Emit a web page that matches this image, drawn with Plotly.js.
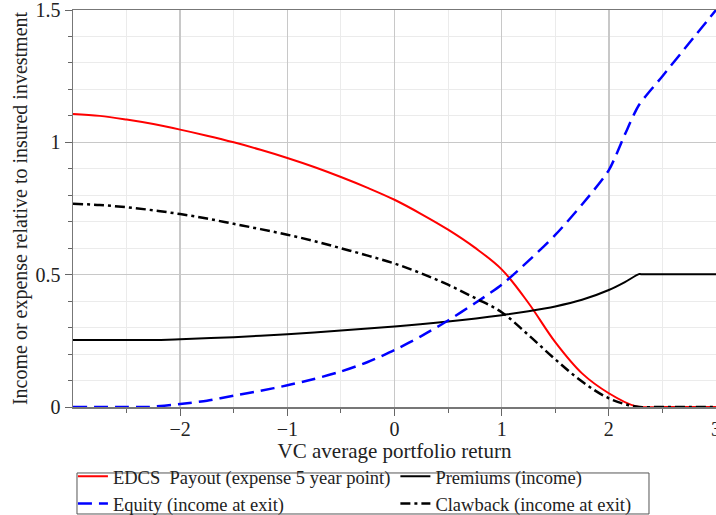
<!DOCTYPE html>
<html>
<head>
<meta charset="utf-8">
<script src="https://cdn.plot.ly/plotly-3.0.1.min.js"></script>
<style>html,body{margin:0;padding:0;background:#fff;}#chart{width:716px;height:515px;}</style>
</head>
<body>
<div id="chart"></div>
<script>
// ---- data ----
const seriesNames = ["EDCS\u00a0 Payout (expense 5 year point)", "Premiums (income)", "Equity (income at exit)", "Clawback (income at exit)"];

const edcsX = [-3,-2.75,-2.5,-2.25,-2,-1.75,-1.5,-1.25,-1,-0.75,-0.5,-0.25,0,0.25,0.5,0.75,1,1.25,1.5,1.75,2,2.25,2.5,2.75,3];
const edcsY = [1.107,1.100,1.086,1.069,1.048,1.025,1.000,0.972,0.941,0.907,0.869,0.828,0.783,0.729,0.670,0.602,0.520,0.393,0.245,0.127,0.052,0.003,0,0,0];

const premX = [-3,-2.5,-2.2,-2.18,-2,-1.5,-1,-0.5,0,0.5,1,1.25,1.5,1.75,2,2.15,2.28,2.3,2.5,3];
const premY = [0.253,0.253,0.253,0.253,0.256,0.264,0.275,0.289,0.304,0.323,0.347,0.362,0.380,0.405,0.442,0.472,0.502,0.502,0.502,0.502];

const equityX = [-3,-2.5,-2.3,-2,-1.75,-1.5,-1.25,-1,-0.75,-0.5,-0.25,0,0.25,0.5,0.75,1,1.25,1.5,1.75,2,2.15,2.28,2.5,2.75,3];
const equityY = [0,0,0,0.011,0.024,0.043,0.061,0.082,0.106,0.134,0.170,0.215,0.268,0.327,0.392,0.462,0.552,0.650,0.765,0.895,1.030,1.140,1.250,1.375,1.500];

const clawX = [-3,-2.75,-2.5,-2.25,-2,-1.75,-1.5,-1.25,-1,-0.75,-0.5,-0.25,0,0.25,0.5,0.75,1,1.25,1.5,1.75,2,2.25,2.5,2.75,3];
const clawY = [0.768,0.763,0.755,0.743,0.729,0.712,0.692,0.672,0.651,0.627,0.600,0.572,0.542,0.505,0.462,0.412,0.358,0.272,0.180,0.096,0.033,0.002,0,0,0];

const xTickVals = [-2,-1,0,1,2,3];
const xMinorVals = [-2.5,-1.5,-0.5,0.5,1.5,2.5];
const yTickVals = [0,0.5,1,1.5];
const yTickText = ["0","0.5","1","1.5"];

const xTitle = "VC average portfolio return";
const yTitle = "Income or expense relative to insured investment";

// ---- chart ----
const FONT = "'Liberation Serif', 'Times New Roman', serif";

const traces = [
  {x: edcsX, y: edcsY, name: seriesNames[0], mode: "lines",
   line: {color: "#ff0000", width: 2, shape: "spline", smoothing: 1}},
  {x: premX, y: premY, name: seriesNames[1], mode: "lines",
   line: {color: "#000000", width: 2, shape: "spline", smoothing: 0.9}},
  {x: equityX, y: equityY, name: seriesNames[2], mode: "lines",
   line: {color: "#0000ff", width: 2.5, dash: "14px,7px", shape: "spline", smoothing: 0.7}},
  {x: clawX, y: clawY, name: seriesNames[3], mode: "lines",
   line: {color: "#000000", width: 2.5, dash: "10px,4px,3px,4px", shape: "spline", smoothing: 1}}
];

const layout = {
  width: 716, height: 515,
  margin: {l: 73, r: 0, t: 10, b: 108, autoexpand: false},
  paper_bgcolor: "#ffffff", plot_bgcolor: "#ffffff",
  font: {family: FONT, size: 20, color: "#222"},
  showlegend: true,
  hovermode: false,
  xaxis: {
    range: [-3, 3], tickmode: "array", tickvals: xTickVals,
    ticks: "outside", ticklen: 7, tickwidth: 1, tickcolor: "#666",
    ticklabeloverflow: "allow", ticklabelstandoff: -4,
    showline: true, linecolor: "#777", linewidth: 1.5, mirror: true,
    showgrid: true, gridcolor: "#c8c8c8", gridwidth: 1.5, zeroline: false,
    tickfont: {family: FONT, size: 20, color: "#222"},
    minor: {tickmode: "array", tickvals: xMinorVals, ticks: "outside", ticklen: 4, tickcolor: "#666",
            showgrid: true, gridcolor: "#ebebeb", gridwidth: 1},
    title: {text: xTitle, font: {family: FONT, size: 21, color: "#222"}, standoff: 0}
  },
  yaxis: {
    range: [0, 1.5], tickmode: "array", tickvals: yTickVals, ticktext: yTickText,
    ticks: "outside", ticklen: 7, tickwidth: 1, tickcolor: "#666",
    ticklabeloverflow: "allow",
    showline: true, linecolor: "#777", linewidth: 1.5,
    showgrid: true, gridcolor: "#c8c8c8", gridwidth: 1.5, zeroline: false,
    tickfont: {family: FONT, size: 20, color: "#222"},
    minor: {tickmode: "linear", tick0: 0, dtick: 0.1, ticks: "outside", ticklen: 4, tickcolor: "#666",
            showgrid: true, gridcolor: "#ebebeb", gridwidth: 1},
    title: {text: yTitle, font: {family: FONT, size: 20, color: "#222"}, standoff: 2}
  },
  legend: {
    orientation: "h", x: -0.0001, xanchor: "left", y: -0.128, yanchor: "top",
    bgcolor: "rgba(0,0,0,0)", borderwidth: 0, itemwidth: 30,
    font: {family: FONT, size: 18.5, color: "#222"}, traceorder: "normal"
  },
  shapes: [
    {type: "rect", xref: "paper", yref: "paper", x0: 0.0062, x1: 0.8958, y0: -0.2695, y1: -0.1662,
     line: {color: "#555", width: 1}, fillcolor: "rgba(0,0,0,0)", layer: "above"}
  ]
};

Plotly.newPlot("chart", traces, layout, {staticPlot: true, displayModeBar: false});
</script>
</body>
</html>
